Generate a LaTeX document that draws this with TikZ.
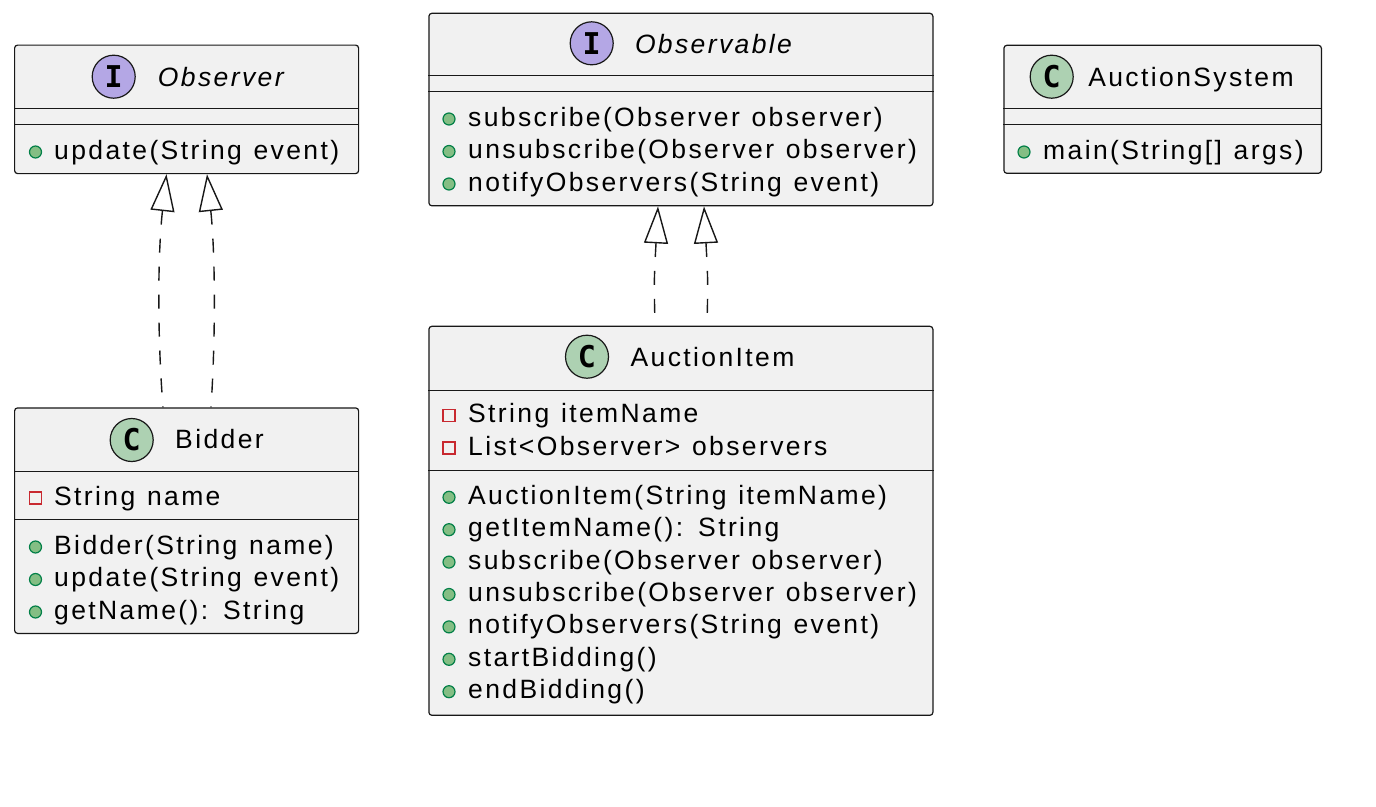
\documentclass[tikz,border=0pt]{standalone}
\usepackage{fontspec}
\setmainfont{Liberation Sans}[LetterSpace=9, WordSpace=1.2]
\newfontfamily\iconfont{DejaVu Sans Mono Bold}
\usetikzlibrary{arrows.meta}

\definecolor{umlline}{HTML}{181818}
\definecolor{boxbg}{HTML}{F1F1F1}
\definecolor{classgreen}{HTML}{ADD1B2}
\definecolor{ifacepurple}{HTML}{B4A7E5}
\definecolor{pubfill}{HTML}{84BE84}
\definecolor{publine}{HTML}{038048}
\definecolor{privline}{HTML}{C82930}

\tikzset{
  umlbox/.style={draw=umlline, fill=boxbg, line width=1.2pt, rounded corners=3pt,
    inner sep=0pt, anchor=north west},
  sepline/.style={draw=umlline, line width=1pt},
  icon/.style={circle, draw=umlline, line width=1.2pt, minimum size=43pt, inner sep=0pt,
    font=\iconfont\fontsize{30}{30}\selectfont, text=black},
  classicon/.style={icon, fill=classgreen},
  ifaceicon/.style={icon, fill=ifacepurple},
  umltext/.style={font=\fontsize{26.5}{31}\selectfont, inner sep=0pt, text=black},
  title/.style={umltext, anchor=base},
  member/.style={umltext, anchor=base west},
  pub/.style={circle, draw=publine, fill=pubfill, line width=1.2pt, minimum size=12pt, inner sep=0pt},
  priv/.style={rectangle, draw=privline, line width=1.4pt, minimum size=12pt, inner sep=0pt},
  realize/.style={draw=umlline, line width=1.4pt, dash pattern=on 14pt off 14pt,
    {Triangle[open, length=37pt, width=24pt, line width=1.4pt]}-},
}

% one member row: name, marker style, marker x, text x, baseline, text
\newcommand{\umlrow}[6]{%
  \node[#2] (#1-v) at (#3,{#5-7}) {};
  \node[member] (#1) at (#4,#5) {#6};}

\begin{document}
\begin{tikzpicture}[x=1pt, y=-1pt]
\path[use as bounding box, fill=white] (0,0) rectangle (1376,806);

% ---- Observer ----
\node[umlbox, minimum width=344pt, minimum height=128.5pt] (observer) at (14,44.5) {};
\draw[sepline] ([yshift=-64pt]observer.north west) -- ([yshift=-64pt]observer.north east);
\draw[sepline] ([yshift=-80pt]observer.north west) -- ([yshift=-80pt]observer.north east);
\node[ifaceicon] (observer-i) at (113.7,76.7) {I};
\node[title] (observer-t) at (220.8,86) {\itshape Observer};
\umlrow{observer-m1}{pub}{35.5}{54}{159}{update(String event)}

% ---- Bidder ----
\node[umlbox, minimum width=344pt, minimum height=225.5pt] (bidder) at (14,407.3) {};
\draw[sepline] ([yshift=-63.7pt]bidder.north west) -- ([yshift=-63.7pt]bidder.north east);
\draw[sepline] ([yshift=-111.7pt]bidder.north west) -- ([yshift=-111.7pt]bidder.north east);
\node[classicon] (bidder-i) at (131.7,440) {C};
\node[title] (bidder-t) at (219.5,448) {Bidder};
\umlrow{bidder-f1}{priv}{35.5}{54}{505}{String name}
\umlrow{bidder-m1}{pub}{35.5}{54}{554}{Bidder(String name)}
\umlrow{bidder-m2}{pub}{35.5}{54}{586.5}{update(String event)}
\umlrow{bidder-m3}{pub}{35.5}{54}{619}{getName(): String}

% ---- Observable ----
\node[umlbox, minimum width=504pt, minimum height=192.5pt] (observable) at (428.3,12.7) {};
\draw[sepline] ([yshift=-63pt]observable.north west) -- ([yshift=-63pt]observable.north east);
\draw[sepline] ([yshift=-79pt]observable.north west) -- ([yshift=-79pt]observable.north east);
\node[ifaceicon] (observable-i) at (591.7,43.3) {I};
\node[title] (observable-t) at (713.5,53.3) {\itshape Observable};
\umlrow{observable-m1}{pub}{449}{468}{126}{subscribe(Observer observer)}
\umlrow{observable-m2}{pub}{449}{468}{158.5}{unsubscribe(Observer observer)}
\umlrow{observable-m3}{pub}{449}{468}{191}{notifyObservers(String event)}

% ---- AuctionSystem ----
\node[umlbox, minimum width=317.5pt, minimum height=128pt] (system) at (1003.3,44.7) {};
\draw[sepline] ([yshift=-63.6pt]system.north west) -- ([yshift=-63.6pt]system.north east);
\draw[sepline] ([yshift=-79.6pt]system.north west) -- ([yshift=-79.6pt]system.north east);
\node[classicon] (system-i) at (1051.7,76.7) {C};
\node[title] (system-t) at (1191,86) {AuctionSystem};
\umlrow{system-m1}{pub}{1024}{1043}{159}{main(String[] args)}

% ---- AuctionItem ----
\node[umlbox, minimum width=504pt, minimum height=389pt] (item) at (428.3,325.7) {};
\draw[sepline] ([yshift=-64.3pt]item.north west) -- ([yshift=-64.3pt]item.north east);
\draw[sepline] ([yshift=-144.3pt]item.north west) -- ([yshift=-144.3pt]item.north east);
\node[classicon] (item-i) at (587,356.7) {C};
\node[title] (item-t) at (712.5,366) {AuctionItem};
\umlrow{item-f1}{priv}{449}{468}{422.5}{String itemName}
\umlrow{item-f2}{priv}{449}{468}{455}{List<Observer> observers}
\umlrow{item-m1}{pub}{449}{468}{504.3}{AuctionItem(String itemName)}
\umlrow{item-m2}{pub}{449}{468}{536.7}{getItemName(): String}
\umlrow{item-m3}{pub}{449}{468}{569.1}{subscribe(Observer observer)}
\umlrow{item-m4}{pub}{449}{468}{601.5}{unsubscribe(Observer observer)}
\umlrow{item-m5}{pub}{449}{468}{633.9}{notifyObservers(String event)}
\umlrow{item-m6}{pub}{449}{468}{666.3}{startBidding()}
\umlrow{item-m7}{pub}{449}{468}{698.7}{endBidding()}

% ---- realization connectors ----
\coordinate (observer-a1) at ([xshift=152.5pt]observer.south west);
\coordinate (observer-a2) at ([xshift=193pt]observer.south west);
\coordinate (bidder-e1) at ([xshift=149pt]bidder.north west);
\coordinate (bidder-e2) at ([xshift=197pt]bidder.north west);
\coordinate (observable-a1) at ([xshift=229.7pt]observable.south west);
\coordinate (observable-a2) at ([xshift=275.7pt]observable.south west);
\coordinate (item-e1) at ([xshift=226.7pt]item.north west);
\coordinate (item-e2) at ([xshift=278.7pt]item.north west);

\draw[realize] (observer-a1) .. controls +(-8.5,77) and +(-6,-77) .. (bidder-e1);
\draw[realize] (observer-a2) .. controls +(8,77) and +(5,-77) .. (bidder-e2);
\draw[realize] (observable-a1) .. controls +(-4,74) and +(-1,-45) .. (item-e1);
\draw[realize] (observable-a2) .. controls +(4,74) and +(1,-45) .. (item-e2);
\end{tikzpicture}
\end{document}
